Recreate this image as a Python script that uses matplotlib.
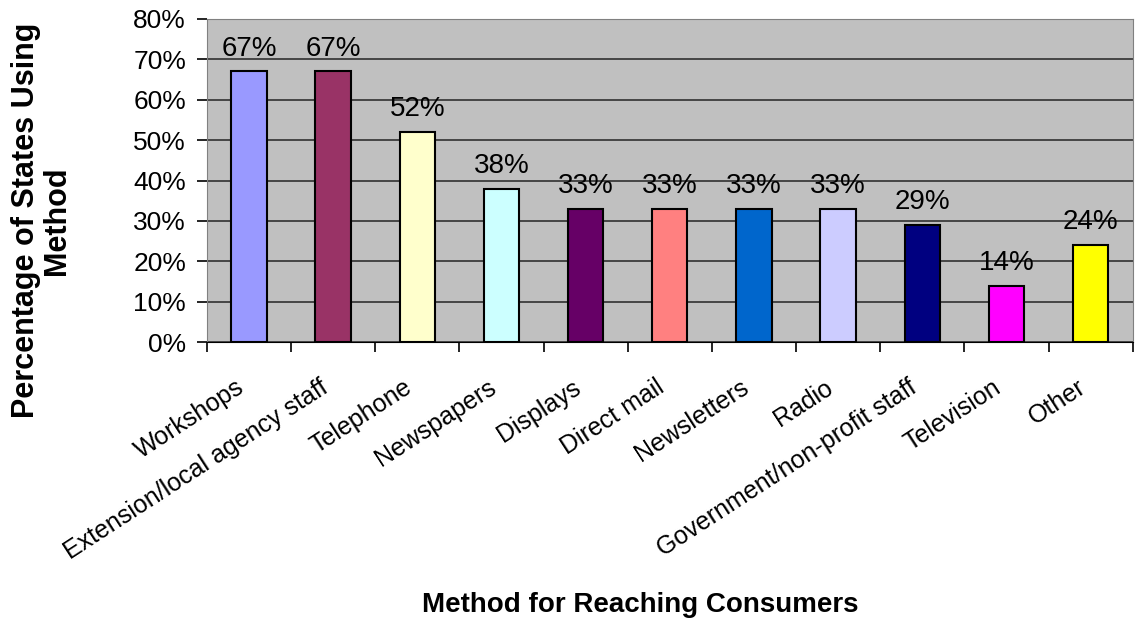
import matplotlib.pyplot as plt
import matplotlib.transforms as mtransforms
import numpy as np

plt.rcParams['font.family'] = ['Liberation Sans', 'DejaVu Sans']

methods = ["Workshops", "Extension/local agency staff", "Telephone", "Newspapers",
           "Displays", "Direct mail", "Newsletters", "Radio",
           "Government/non-profit staff", "Television", "Other"]
percent = [67, 67, 52, 38, 33, 33, 33, 33, 29, 14, 24]
colors = ["#9999FF", "#993366", "#FFFFCC", "#CCFFFF", "#660066", "#FF8080",
          "#0066CC", "#CCCCFF", "#000080", "#FF00FF", "#FFFF00"]

fig = plt.figure(figsize=(11.43, 6.22), dpi=100)
ax = fig.add_axes([0.181, 0.450, 0.810, 0.5195])
ax.set_facecolor("#C0C0C0")

x = np.arange(len(methods))
ax.bar(x, percent, width=0.42, color=colors, edgecolor="black", linewidth=1.5, zorder=3)
for xi, v in zip(x, percent):
    ax.annotate(f"{v}%", (xi, v), xytext=(0, 7), textcoords="offset points",
                ha="center", va="bottom", fontsize=20)

ax.set_xlim(-0.5, len(methods) - 0.5)
ax.set_ylim(0, 80)
ax.set_yticks(range(0, 81, 10))
ax.set_yticklabels([f"{t}%" for t in range(0, 81, 10)], fontsize=19)
ax.yaxis.grid(True, color="#303030", linewidth=1.2, zorder=1)
ax.tick_params(axis="y", length=7, width=1.2, pad=8)

# category labels in the middle, tick marks on the boundaries
ax.set_xticks(x)
ax.set_xticklabels(methods, rotation=33, ha="right", va="top", rotation_mode="anchor",
                   fontsize=18)
ax.tick_params(axis="x", which="major", length=0, pad=24)
shift = mtransforms.ScaledTranslation(-14 / 100, 0, fig.dpi_scale_trans)
for lbl in ax.get_xticklabels():
    lbl.set_transform(lbl.get_transform() + shift)
ax.set_xticks(np.arange(-0.5, len(methods)), minor=True)
ax.tick_params(axis="x", which="minor", length=7, width=1.2)

for side in ["top", "right", "left"]:
    ax.spines[side].set_color("#808080")
ax.spines["bottom"].set_color("black")

fig.text(0.036, 0.646, "Percentage of States Using\nMethod", rotation=90, ha="center",
         va="center", fontsize=22, fontweight="bold", linespacing=1.05)
fig.text(0.56, 0.027, "Method for Reaching Consumers", ha="center", va="center",
         fontsize=20, fontweight="bold")

fig.savefig("out.png", dpi=100)
